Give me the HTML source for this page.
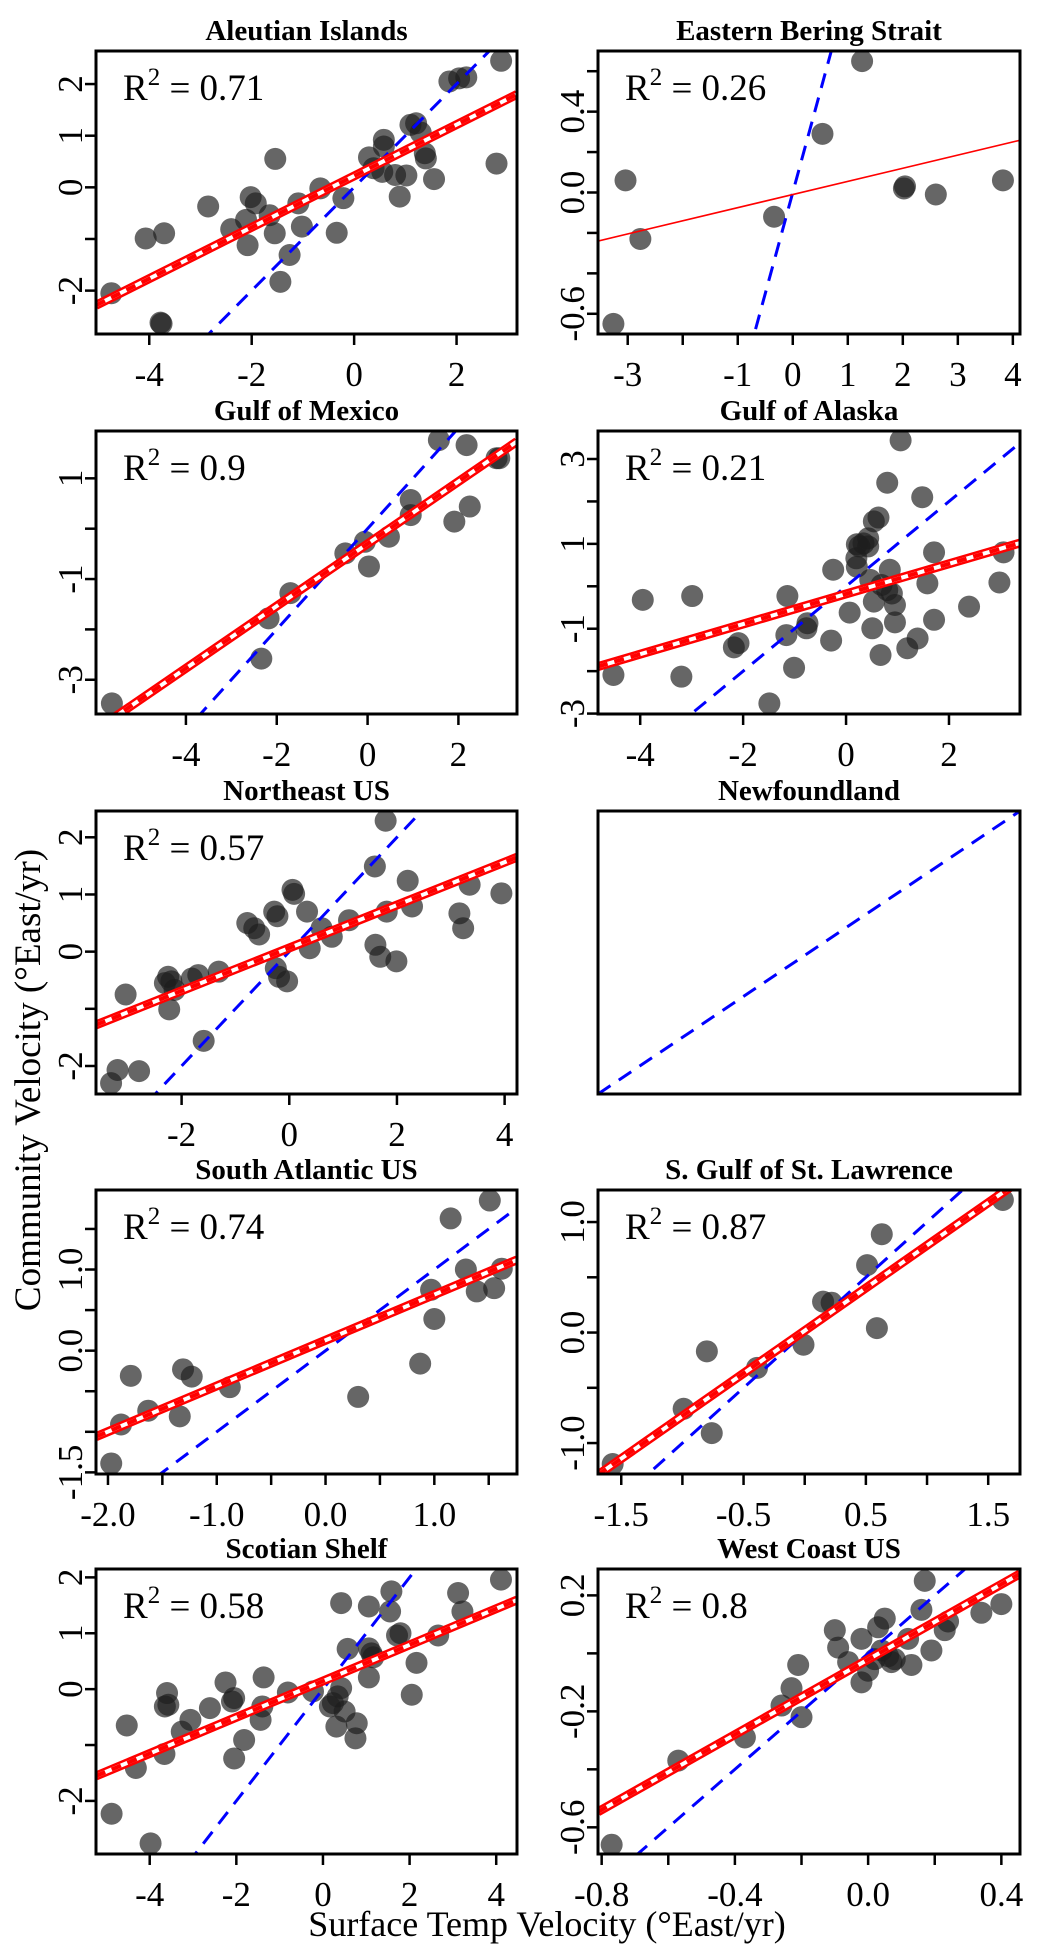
<!DOCTYPE html>
<html><head><meta charset="utf-8"><style>
html,body{margin:0;padding:0;background:#fff;}
svg, svg text{font-family:"Liberation Serif","DejaVu Serif","Times New Roman",serif;}
</style></head><body>
<svg id="chart" width="1050" height="1950" viewBox="0 0 1050 1950" xmlns="http://www.w3.org/2000/svg" font-family="Liberation Serif, DejaVu Serif, serif">
<text font-family="Liberation Serif, serif" x="40" y="1080" transform="rotate(-90 40 1080)" text-anchor="middle" font-size="37">Community Velocity (°East/yr)</text>
<text font-family="Liberation Serif, serif" x="547" y="1936" text-anchor="middle" font-size="36">Surface Temp Velocity (°East/yr)</text>
</svg>
<script>
// ---- data ----
const aleutianX=[-4.74,-4.07,-3.71,-3.78,-3.76,-2.85,-2.02,-1.92,-2.11,-2.4,-2.08,-1.65,-1.55,-1.54,-1.44,-1.26,-1.09,-1.02,-0.66,-0.34,-0.21,0.29,0.38,0.58,0.58,0.55,0.8,0.89,1.02,1.1,1.21,1.3,1.38,1.4,1.56,1.86,2.05,2.19,2.87,2.78];
const aleutianY=[-2.05,-0.99,-0.89,-2.62,-2.64,-0.37,-0.19,-0.31,-0.63,-0.81,-1.12,-0.54,-0.89,0.55,-1.83,-1.31,-0.31,-0.76,-0.02,-0.88,-0.21,0.58,0.37,0.92,0.79,0.3,0.24,-0.18,0.23,1.21,1.24,1.06,0.66,0.56,0.16,2.05,2.11,2.13,2.45,0.46];
const aleutianFit=[0.22,0.497];
const beringX=[-3.04,-2.77,-3.26,-0.34,0.54,1.26,2.02,2.04,2.6,3.82];
const beringY=[0.06,-0.23,-0.65,-0.12,0.29,0.65,0.02,0.03,-0.01,0.06];
const beringFit=[-0.01,0.065];
const mexicoX=[-5.63,-2.34,-2.18,-1.7,-0.49,-0.06,0.03,0.47,0.95,0.95,1.57,1.91,2.18,2.25,2.84,2.9];
const mexicoY=[-3.47,-2.58,-1.78,-1.28,-0.49,-0.26,-0.75,-0.16,0.57,0.27,1.76,0.14,1.66,0.44,1.4,1.4];
const mexicoFit=[-0.30,0.618];
const alaskaX=[1.06,0.8,1.48,0.63,0.54,0.21,0.34,0.43,0.26,0.43,0.2,0.21,-0.25,1.71,3.06,0.85,0.47,0.69,0.8,0.89,1.58,2.98,0.54,0.95,0.07,-1.14,-3.95,-2.99,-0.75,-0.77,-0.29,0.51,0.95,1.71,2.39,-1.16,-2.09,-2.18,1.39,1.19,0.67,-1.01,-3.2,-4.52,-1.49];
const alaskaY=[3.44,2.44,2.1,1.62,1.53,0.99,1.01,0.94,0.94,1.13,0.66,0.46,0.39,0.8,0.8,0.39,0.15,0.03,-0.09,-0.17,0.07,0.09,-0.36,-0.44,-0.62,-0.23,-0.32,-0.23,-0.87,-0.99,-1.28,-0.99,-0.85,-0.79,-0.48,-1.15,-1.34,-1.44,-1.23,-1.46,-1.62,-1.92,-2.13,-2.09,-2.76];
const alaskaFit=[-0.18,0.355];
const northeastX=[1.79,1.59,2.2,3.35,3.94,0.06,0.09,-0.28,-0.22,0.33,-0.78,-0.65,-0.56,1.81,2.28,3.16,3.23,1.11,0.6,0.79,0.38,1.6,1.69,1.99,-0.25,-0.04,-0.19,-1.31,-1.69,-1.81,-2.25,-2.19,-2.31,-2.13,-3.04,-2.23,-1.59,-3.19,-2.79,-3.31];
const northeastY=[2.29,1.49,1.24,1.17,1.02,1.08,1.01,0.7,0.62,0.7,0.5,0.41,0.3,0.7,0.79,0.67,0.41,0.55,0.41,0.26,0.06,0.12,-0.09,-0.17,-0.29,-0.52,-0.44,-0.35,-0.41,-0.47,-0.44,-0.52,-0.55,-0.67,-0.75,-1.01,-1.56,-2.07,-2.09,-2.3];
const northeastFit=[0.065,0.375];
const newfoundlandX=[];
const newfoundlandY=[];
const southAtlX=[1.51,1.15,1.29,1.62,0.97,1.39,1.55,1.0,0.87,0.3,-0.88,-1.31,-1.23,-1.79,-1.63,-1.34,-1.88,-1.97];
const southAtlY=[1.85,1.63,1.0,1.01,0.75,0.73,0.77,0.39,-0.16,-0.57,-0.45,-0.23,-0.32,-0.31,-0.74,-0.81,-0.91,-1.39];
const southAtlFit=[0.128,0.563];
const stLawrenceX=[1.62,0.63,0.51,0.15,0.22,0.59,-0.01,-0.39,-0.8,-0.99,-0.76,-1.57];
const stLawrenceY=[1.2,0.89,0.61,0.28,0.27,0.04,-0.11,-0.32,-0.17,-0.69,-0.91,-1.19];
const stLawrenceFit=[0.017,0.772];
const scotianX=[4.11,3.12,3.22,1.58,1.55,0.42,1.06,1.79,1.71,2.66,0.57,1.06,1.12,1.16,2.16,1.06,2.05,-1.37,-2.25,-2.05,-2.1,-0.81,-0.23,0.42,0.34,0.23,0.16,0.5,0.78,0.31,0.75,-1.4,-1.44,-2.61,-3.06,-3.26,-3.6,-3.57,-3.65,-4.53,-1.82,-2.05,-3.66,-4.32,-4.88,-3.98];
const scotianY=[1.96,1.72,1.39,1.75,1.39,1.54,1.48,1.0,0.96,0.96,0.72,0.73,0.64,0.57,0.47,0.21,-0.1,0.21,0.12,-0.16,-0.22,-0.06,-0.04,0.02,-0.13,-0.25,-0.31,-0.4,-0.61,-0.67,-0.88,-0.31,-0.55,-0.34,-0.55,-0.76,-0.07,-0.28,-0.31,-0.65,-0.91,-1.24,-1.16,-1.41,-2.23,-2.76];
const scotianFit=[0.144,0.324];
const westCoastX=[0.17,0.4,0.34,0.16,0.05,0.03,-0.1,-0.02,0.23,0.24,0.12,0.19,-0.09,0.04,0.06,0.08,0.02,0.07,0.0,-0.02,0.13,-0.06,-0.21,-0.23,-0.26,-0.2,-0.37,-0.57,-0.77];
const westCoastY=[0.25,0.17,0.14,0.15,0.12,0.09,0.08,0.05,0.08,0.11,0.05,0.01,0.02,0.01,-0.01,-0.02,-0.02,-0.03,-0.06,-0.1,-0.04,-0.03,-0.04,-0.12,-0.18,-0.22,-0.29,-0.37,-0.66];
const westCoastFit=[-0.021,0.648];
const r2Labels=["0.71","0.26","0.9","0.21","0.57","","0.74","0.87","0.58","0.8"];
const panelTitles=["Aleutian Islands","Eastern Bering Strait","Gulf of Mexico","Gulf of Alaska","Northeast US","Newfoundland","South Atlantic US","S. Gulf of St. Lawrence","Scotian Shelf","West Coast US"];
const xTicks1=[-4,-2,0,2], xTickLabels1=["-4","-2","0","2"], yTicks1=[-2,-1,0,1,2], yTickLabels1=["-2","","0","1","2"];
const xTicks2=[-3,-2,-1,0,1,2,3,4], xTickLabels2=["-3","","-1","0","1","2","3","4"], yTicks2=[-0.6,-0.4,-0.2,0,0.2,0.4,0.6], yTickLabels2=["-0.6","","","0.0","","0.4",""];
const xTicks3=[-4,-2,0,2], xTickLabels3=["-4","-2","0","2"], yTicks3=[-3,-2,-1,0,1], yTickLabels3=["-3","","-1","","1"];
const xTicks4=[-4,-2,0,2], xTickLabels4=["-4","-2","0","2"], yTicks4=[-3,-2,-1,0,1,2,3], yTickLabels4=["-3","","-1","","1","","3"];
const xTicks5=[-2,0,2,4], xTickLabels5=["-2","0","2","4"], yTicks5=[-2,-1,0,1,2], yTickLabels5=["-2","","0","1","2"];
const xTicks7=[-2,-1.5,-1,-0.5,0,0.5,1,1.5], xTickLabels7=["-2.0","","-1.0","","0.0","","1.0",""], yTicks7=[-1.5,-1,-0.5,0,0.5,1,1.5], yTickLabels7=["-1.5","","","0.0","","1.0",""];
const xTicks8=[-1.5,-1,-0.5,0,0.5,1,1.5], xTickLabels8=["-1.5","","-0.5","","0.5","","1.5"], yTicks8=[-1,-0.5,0,0.5,1], yTickLabels8=["-1.0","","0.0","","1.0"];
const xTicks9=[-4,-2,0,2,4], xTickLabels9=["-4","-2","0","2","4"], yTicks9=[-2,-1,0,1,2], yTickLabels9=["-2","","0","1","2"];
const xTicks10=[-0.8,-0.6,-0.4,-0.2,0,0.2,0.4], xTickLabels10=["-0.8","","-0.4","","0.0","","0.4"], yTicks10=[-0.6,-0.4,-0.2,0,0.2], yTickLabels10=["-0.6","","-0.2","","0.2"];

// ---- layout (pixel frames + domains) ----
const LX=[96,517], RX=[598,1020];
const ROWS=[[51,334],[431,714],[811,1094],[1190,1474],[1569,1854]];
const panels=[
 {key:"aleutian-islands",c:LX,r:ROWS[0],xd:[-5.04,3.18],yd:[-2.84,2.64],x:aleutianX,y:aleutianY,fit:aleutianFit,xt:xTicks1,xl:xTickLabels1,yt:yTicks1,yl:yTickLabels1,band:true},
 {key:"eastern-bering-strait",c:RX,r:ROWS[0],xd:[-3.54,4.13],yd:[-0.70,0.70],x:beringX,y:beringY,fit:beringFit,xt:xTicks2,xl:xTickLabels2,yt:yTicks2,yl:yTickLabels2,band:false},
 {key:"gulf-of-mexico",c:LX,r:ROWS[1],xd:[-5.98,3.29],yd:[-3.68,1.94],x:mexicoX,y:mexicoY,fit:mexicoFit,xt:xTicks3,xl:xTickLabels3,yt:yTicks3,yl:yTickLabels3,band:true},
 {key:"gulf-of-alaska",c:RX,r:ROWS[1],xd:[-4.82,3.38],yd:[-3.01,3.66],x:alaskaX,y:alaskaY,fit:alaskaFit,xt:xTicks4,xl:xTickLabels4,yt:yTicks4,yl:yTickLabels4,band:true},
 {key:"northeast-us",c:LX,r:ROWS[2],xd:[-3.59,4.23],yd:[-2.49,2.46],x:northeastX,y:northeastY,fit:northeastFit,xt:xTicks5,xl:xTickLabels5,yt:yTicks5,yl:yTickLabels5,band:true},
 {key:"newfoundland",c:RX,r:ROWS[2],xd:[-1,1],yd:[-1,1],x:newfoundlandX,y:newfoundlandY,fit:null,xt:[],xl:[],yt:[],yl:[],band:false},
 {key:"south-atlantic-us",c:LX,r:ROWS[3],xd:[-2.11,1.76],yd:[-1.52,1.98],x:southAtlX,y:southAtlY,fit:southAtlFit,xt:xTicks7,xl:xTickLabels7,yt:yTicks7,yl:yTickLabels7,band:true},
 {key:"s-gulf-st-lawrence",c:RX,r:ROWS[3],xd:[-1.69,1.76],yd:[-1.28,1.29],x:stLawrenceX,y:stLawrenceY,fit:stLawrenceFit,xt:xTicks8,xl:xTickLabels8,yt:yTicks8,yl:yTickLabels8,band:true},
 {key:"scotian-shelf",c:LX,r:ROWS[4],xd:[-5.24,4.48],yd:[-2.95,2.15],x:scotianX,y:scotianY,fit:scotianFit,xt:xTicks9,xl:xTickLabels9,yt:yTicks9,yl:yTickLabels9,band:true},
 {key:"west-coast-us",c:RX,r:ROWS[4],xd:[-0.811,0.456],yd:[-0.692,0.291],x:westCoastX,y:westCoastY,fit:westCoastFit,xt:xTicks10,xl:xTickLabels10,yt:yTicks10,yl:yTickLabels10,band:true}
];
const NS="http://www.w3.org/2000/svg";
const FONT="Liberation Serif, DejaVu Serif, serif";
const svg=document.getElementById("chart");
function mk(tag,attrs,parent){const e=document.createElementNS(NS,tag);for(const k in attrs)e.setAttribute(k,attrs[k]);if(tag==="text")e.setAttribute("font-family",FONT);(parent||svg).appendChild(e);return e;}
const defs=mk("defs",{});
panels.forEach((p,i)=>{
  const [L,R]=p.c,[T,B]=p.r;
  const sx=v=>L+(v-p.xd[0])/(p.xd[1]-p.xd[0])*(R-L);
  const sy=v=>B-(v-p.yd[0])/(p.yd[1]-p.yd[0])*(B-T);
  const g=mk("g",{});
  
  
  const cp=mk("clipPath",{id:"clip"+i},defs);mk("rect",{x:L,y:T,width:R-L,height:B-T},cp);
  const t=mk("text",{x:(L+R)/2,y:T-11,"text-anchor":"middle","font-size":"29","font-weight":"bold"},g);
  t.textContent=panelTitles[i];
  
  
  const pg=mk("g",{"clip-path":"url(#clip"+i+")"},g);
  p.x.forEach((xv,j)=>{
    const c=mk("circle",{cx:sx(xv),cy:sy(p.y[j]),r:11,fill:"rgba(30,30,30,0.68)"},pg);
    
    
  });
  const lo=Math.min(p.xd[0],p.yd[0]),hi=Math.max(p.xd[1],p.yd[1]);
  const bl=mk("line",{x1:sx(lo),y1:sy(lo),x2:sx(hi),y2:sy(hi),stroke:"#0000ff","stroke-width":"3","stroke-dasharray":"15 10"},pg);
  
  
  if(p.fit){
    const x1=p.xd[0],x2=p.xd[1],y1=p.fit[0]+p.fit[1]*x1,y2=p.fit[0]+p.fit[1]*x2;
    const a={x1:sx(x1),y1:sy(y1),x2:sx(x2),y2:sy(y2)};
    const fg=mk("g",{},pg);
    
    
    if(p.band){
      mk("line",Object.assign({stroke:"#ff0000","stroke-width":"9"},a),fg);
      mk("line",Object.assign({stroke:"#ffffff","stroke-width":"4"},a),fg);
      mk("line",Object.assign({stroke:"#ff0000","stroke-width":"4","stroke-dasharray":"10 7"},a),fg);
    } else {
      mk("line",Object.assign({stroke:"#ff0000","stroke-width":"1.6"},a),fg);
    }
  }
  const fr=mk("rect",{x:L,y:T,width:R-L,height:B-T,fill:"none",stroke:"#000","stroke-width":"3"},g);
  
  
  if(r2Labels[i]){
    const r=mk("text",{x:L+27,y:T+49,"font-size":"37"},g);
    
    
    const s1=mk("tspan",{},r);s1.textContent="R";
    const s2=mk("tspan",{dy:"-15","font-size":"25"},r);s2.textContent="2";
    const s3=mk("tspan",{dy:"15"},r);s3.textContent=" = "+r2Labels[i];
  }
  const ax=mk("g",{},g);
  
  
  p.xt.forEach((v,j)=>{
    const X=sx(v);
    mk("line",{x1:X,y1:B,x2:X,y2:B+11,stroke:"#000","stroke-width":"2.5"},ax);
    if(p.xl[j]){const tl=mk("text",{x:X,y:B+52,"text-anchor":"middle","font-size":"35"},ax);tl.textContent=p.xl[j];
      
      }
  });
  const ay=mk("g",{},g);
  
  
  p.yt.forEach((v,j)=>{
    const Y=sy(v);
    mk("line",{x1:L-11,y1:Y,x2:L,y2:Y,stroke:"#000","stroke-width":"2.5"},ay);
    if(p.yl[j]){const bx=L-14;const tl=mk("text",{x:bx,y:Y,"text-anchor":"middle","font-size":"35",transform:"rotate(-90 "+bx+" "+Y+")"},ay);tl.textContent=p.yl[j];
      
      }
  });
});
</script>
</body></html>
